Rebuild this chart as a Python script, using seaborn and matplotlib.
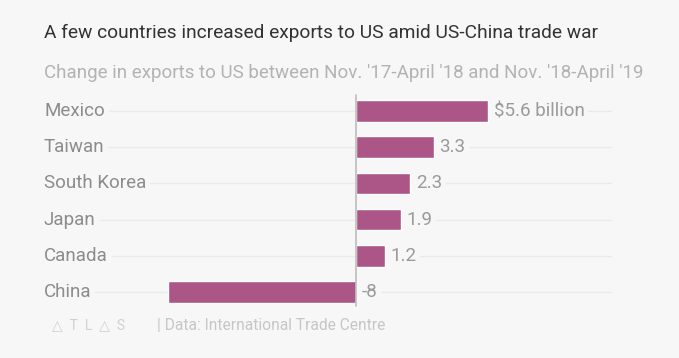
import seaborn as sns
import pandas as pd
import matplotlib.pyplot as plt

countries = ["Mexico", "Taiwan", "South Korea", "Japan", "Canada", "China"]
change = [5.6, 3.3, 2.3, 1.9, 1.2, -8]
value_labels = ["$5.6 billion", "3.3", "2.3", "1.9", "1.2", "-8"]

bg = "#f7f7f7"
bar_color = "#ab5686"

sns.set_style("white")
plt.rcParams["font.family"] = ["Roboto", "DejaVu Sans"]

df = pd.DataFrame({"country": countries, "change": change})

fig = plt.figure(figsize=(6.79, 3.58), dpi=100, facecolor=bg)
ax = fig.add_axes([44 / 679, 1 - 310 / 358, (612 - 44) / 679, 217 / 358])
ax.set_facecolor(bg)

sns.barplot(data=df, x="change", y="country", orient="h", color=bar_color,
            width=0.6, saturation=1, ax=ax, zorder=3)

xmin = -13.25
ax.set_xlim(xmin, 10.85)
ax.set_ylim(5.5, -0.5)
for i in range(len(countries)):
    ax.axhline(i, color="#ebebeb", lw=1, zorder=1)
ax.axvline(0, ymin=0.02, ymax=0.99, color="#bdbdbd", lw=1.2, zorder=4)

for i, (name, v, lab) in enumerate(zip(countries, change, value_labels)):
    ax.text(xmin, i, name, ha="left", va="center", fontsize=13.5, color="#8c8c8c",
            zorder=5, bbox=dict(boxstyle="square,pad=0.2", fc=bg, ec="none"))
    x = v if v > 0 else 0
    ax.annotate(lab, (x, i), xytext=(4, 0), textcoords="offset points",
                ha="left", va="center", fontsize=13.5, color="#9a9a9a", zorder=5,
                bbox=dict(boxstyle="square,pad=0.2", fc=bg, ec="none"))

ax.set_xlabel("")
ax.set_ylabel("")
ax.set_xticks([])
ax.set_yticks([])
sns.despine(ax=ax, left=True, bottom=True)

fig.text(44 / 679, 1 - 33 / 358, "A few countries increased exports to US amid US-China trade war",
         fontsize=13.8, color="#333333", va="center", ha="left")
fig.text(44 / 679, 1 - 73 / 358, "Change in exports to US between Nov. '17-April '18 and Nov. '18-April '19",
         fontsize=13.5, color="#b3b3b3", va="center", ha="left")
fig.text(52 / 679, 1 - 325 / 358, "\u25b3  T  L  \u25b3  S", fontsize=10, color="#d0d0d0",
         va="center", ha="left")
fig.text(157 / 679, 1 - 326 / 358, "| Data: International Trade Centre", fontsize=11.2,
         color="#c6c6c6", va="center", ha="left")

fig.savefig("out.png", dpi=100, facecolor=bg)
